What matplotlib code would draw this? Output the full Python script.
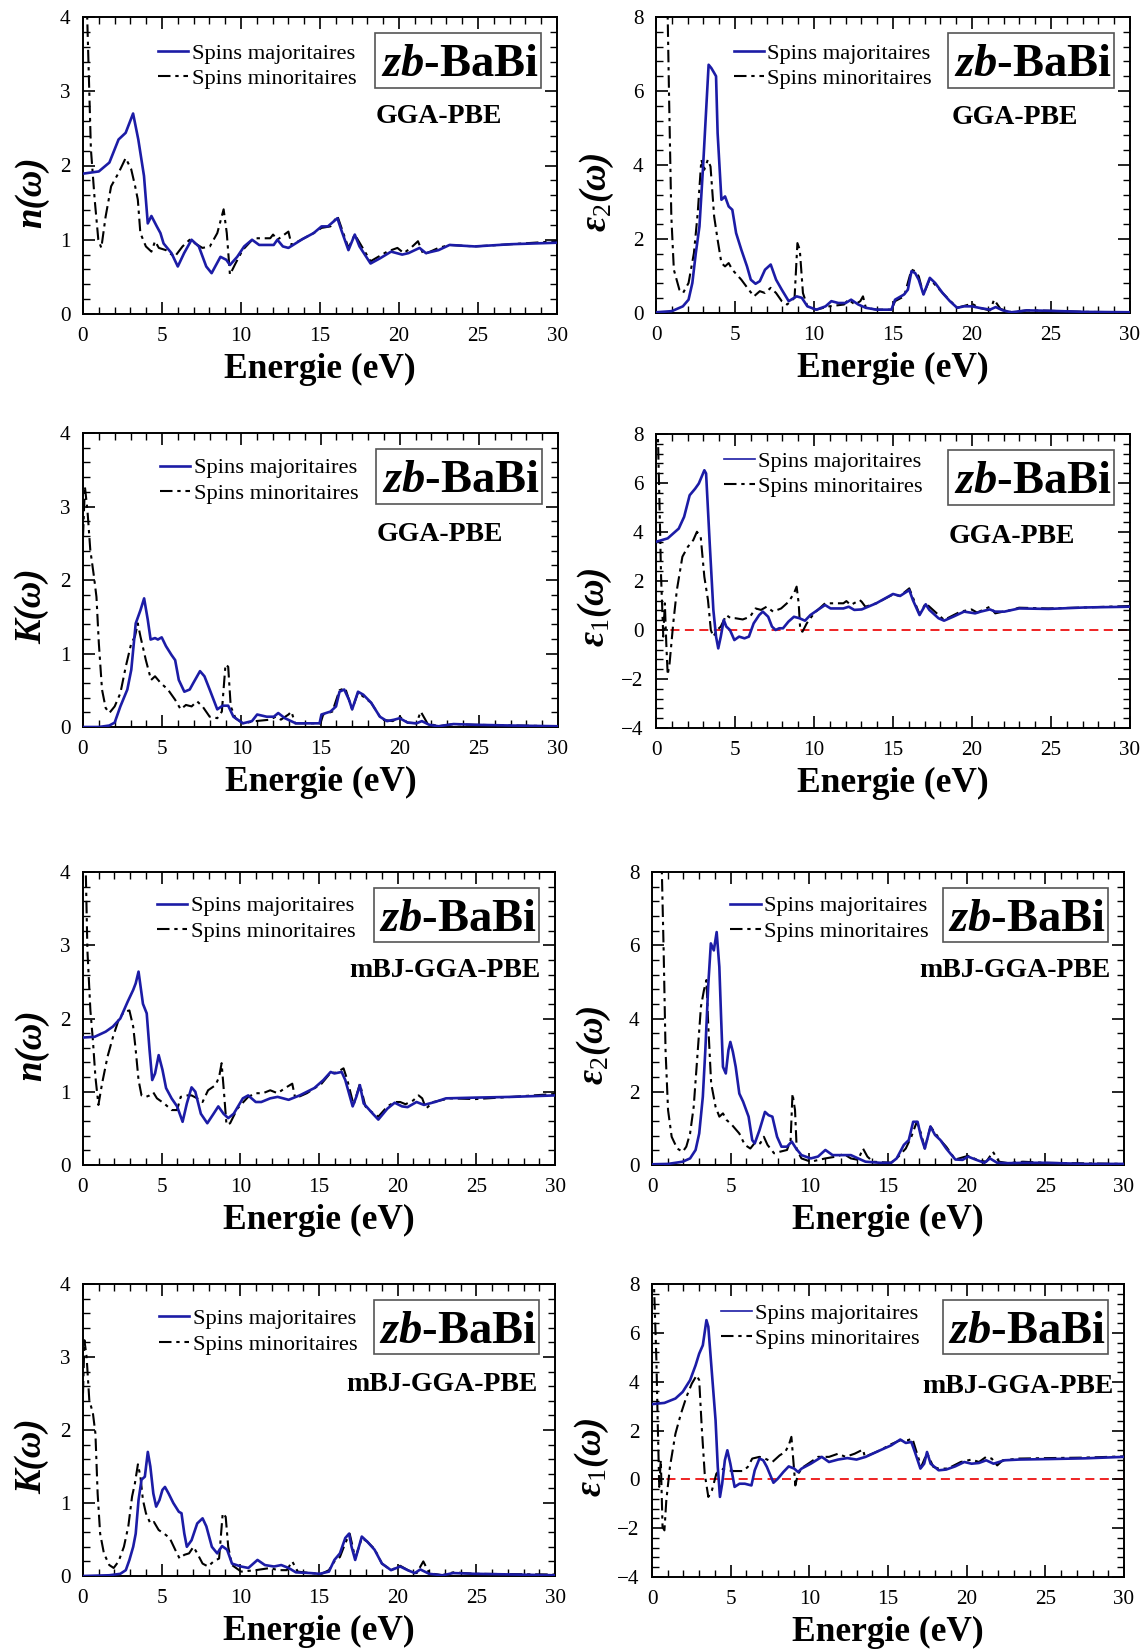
import matplotlib
matplotlib.use('Agg')
import matplotlib.pyplot as plt
from matplotlib.ticker import MultipleLocator
from matplotlib.patches import Rectangle

plt.rcParams['font.family'] = ['Liberation Serif', 'DejaVu Serif']
plt.rcParams['mathtext.fontset'] = 'custom'
plt.rcParams['mathtext.rm'] = 'Liberation Serif'
plt.rcParams['mathtext.it'] = 'Liberation Serif:italic:bold'
plt.rcParams['mathtext.bf'] = 'Liberation Serif:bold'

# ---------------- data (energy eV, value) ----------------
n_gga_up = [(0, 1.89), (1.0, 1.92), (1.67, 2.04), (2.25, 2.35), (2.7, 2.44), (3.17, 2.70), (3.5, 2.35),
            (3.86, 1.86), (4.1, 1.22), (4.33, 1.32), (4.67, 1.18), (4.9, 1.09), (5.1, 0.95), (5.6, 0.82),
            (6.0, 0.64), (6.4, 0.82), (6.87, 1.0), (7.33, 0.91), (7.8, 0.64), (8.14, 0.55), (8.7, 0.77),
            (9.07, 0.73), (9.3, 0.66), (9.76, 0.77), (10.2, 0.91), (10.7, 1.0), (11.15, 0.93), (12.07, 0.93),
            (12.3, 1.0), (12.65, 0.91), (13.0, 0.89), (13.9, 1.01), (14.6, 1.09), (15.1, 1.18), (15.5, 1.18),
            (16.1, 1.29), (16.35, 1.13), (16.8, 0.86), (17.2, 1.07), (17.5, 0.91), (18.2, 0.68), (18.8, 0.75),
            (19.5, 0.84), (20.2, 0.80), (20.6, 0.82), (21.3, 0.89), (21.7, 0.82), (22.5, 0.86), (23.2, 0.93),
            (24.8, 0.91), (27.1, 0.94), (30, 0.96)]
n_gga_dn = [(0.2, 4.5), (0.5, 2.22), (0.74, 1.54), (0.97, 1.0), (1.16, 0.89), (1.43, 1.31), (1.78, 1.72),
            (2.25, 1.9), (2.7, 2.10), (3.05, 1.95), (3.3, 1.72), (3.47, 1.54), (3.63, 1.09), (3.98, 0.91),
            (4.33, 0.84), (4.56, 0.98), (4.8, 0.89), (5.25, 0.86), (5.8, 0.77), (6.3, 0.91), (6.75, 1.0),
            (7.1, 0.95), (7.56, 0.89), (8.03, 0.91), (8.5, 1.09), (8.9, 1.41), (9.1, 1.09), (9.3, 0.53),
            (9.65, 0.68), (10.1, 0.86), (10.8, 1.02), (11.85, 1.02), (12.03, 1.07), (12.3, 1.0), (13.0, 1.11),
            (13.2, 0.93), (14.6, 1.09), (15.1, 1.16), (15.66, 1.18), (16.1, 1.32), (16.8, 0.89), (17.2, 1.07),
            (18.2, 0.71), (19.25, 0.84), (19.9, 0.89), (20.3, 0.82), (20.75, 0.89), (21.2, 0.98), (21.55, 0.80),
            (22.5, 0.89), (23.2, 0.93), (24.8, 0.91), (27.1, 0.94), (30, 0.98)]

eps2_gga_up = [(0, 0.02), (1.0, 0.05), (1.7, 0.18), (2.06, 0.36), (2.3, 0.81), (2.52, 1.62), (2.75, 2.34),
               (2.98, 3.96), (3.15, 5.3), (3.33, 6.71), (3.5, 6.62), (3.68, 6.49), (3.8, 6.4), (3.9, 4.86),
               (4.14, 3.06), (4.37, 3.15), (4.6, 2.88), (4.83, 2.79), (5.07, 2.16), (5.4, 1.71), (5.76, 1.26),
               (6.0, 0.9), (6.3, 0.79), (6.57, 0.86), (6.9, 1.17), (7.26, 1.31), (7.6, 0.90), (7.96, 0.63),
               (8.4, 0.32), (8.9, 0.45), (9.23, 0.41), (9.58, 0.18), (10.15, 0.09), (10.73, 0.18), (11.1, 0.32),
               (11.54, 0.27), (12.0, 0.27), (12.35, 0.36), (12.8, 0.23), (13.28, 0.14), (13.97, 0.09),
               (14.9, 0.09), (15.13, 0.36), (15.7, 0.5), (15.94, 0.63), (16.17, 1.13), (16.4, 1.08),
               (16.63, 0.90), (16.93, 0.5), (17.33, 0.95), (17.67, 0.81), (18.14, 0.54), (18.6, 0.32),
               (19.06, 0.14), (19.5, 0.18), (20.0, 0.18), (20.45, 0.14), (21.14, 0.09), (21.5, 0.16),
               (21.95, 0.07), (22.5, 0.02), (23.45, 0.07), (24.85, 0.06), (27.2, 0.03), (30, 0.02)]
eps2_gga_dn = [(0.7, 9.0), (0.83, 5.77), (0.97, 2.61), (1.13, 1.17), (1.48, 0.63), (1.71, 0.54), (2.06, 0.81),
               (2.4, 1.62), (2.64, 2.70), (2.87, 4.14), (3.05, 3.87), (3.28, 4.14), (3.45, 3.96), (3.68, 2.61),
               (3.9, 1.98), (4.14, 1.35), (4.37, 1.26), (4.6, 1.35), (4.83, 1.17), (5.4, 0.9), (5.87, 0.63),
               (6.2, 0.45), (6.57, 0.59), (6.9, 0.54), (7.26, 0.68), (7.6, 0.54), (7.96, 0.32), (8.3, 0.23),
               (8.77, 0.41), (8.95, 1.89), (9.1, 1.71), (9.3, 0.54), (9.58, 0.18), (10.15, 0.09), (10.96, 0.18),
               (11.9, 0.23), (12.17, 0.36), (12.6, 0.23), (12.93, 0.32), (13.1, 0.45), (13.28, 0.14),
               (13.97, 0.09), (14.9, 0.09), (15.13, 0.32), (15.7, 0.45), (16.17, 1.17), (16.4, 1.13),
               (16.63, 0.99), (16.93, 0.5), (17.33, 0.92), (18.14, 0.54), (19.06, 0.14), (20.0, 0.25),
               (20.45, 0.14), (21.14, 0.07), (21.4, 0.36), (21.8, 0.11), (22.5, 0.02), (23.45, 0.07),
               (24.85, 0.06), (27.2, 0.03), (30, 0.02)]

k_gga_up = [(0, 0.0), (1.0, 0.0), (1.66, 0.02), (2.0, 0.06), (2.36, 0.28), (2.8, 0.51), (3.05, 0.78),
            (3.33, 1.41), (3.63, 1.59), (3.86, 1.75), (4.09, 1.46), (4.27, 1.19), (4.55, 1.21), (4.73, 1.19),
            (4.97, 1.22), (5.24, 1.10), (5.59, 0.98), (5.82, 0.91), (6.05, 0.64), (6.4, 0.48), (6.74, 0.51),
            (6.97, 0.6), (7.39, 0.76), (7.67, 0.69), (8.0, 0.51), (8.48, 0.24), (8.82, 0.29), (9.17, 0.29),
            (9.5, 0.14), (10.1, 0.05), (10.67, 0.08), (11.0, 0.17), (11.6, 0.14), (12.05, 0.14), (12.33, 0.19),
            (12.75, 0.12), (13.44, 0.05), (14.36, 0.05), (14.94, 0.05), (15.06, 0.17), (15.63, 0.21),
            (15.98, 0.28), (16.2, 0.48), (16.5, 0.51), (16.8, 0.37), (17.0, 0.24), (17.37, 0.48), (17.7, 0.44),
            (18.2, 0.33), (18.75, 0.14), (19.2, 0.08), (19.67, 0.10), (20.0, 0.12), (20.5, 0.06), (21.06, 0.05),
            (21.4, 0.08), (21.87, 0.03), (22.45, 0.01), (23.4, 0.04), (24.76, 0.03), (27.07, 0.02), (30, 0.01)]
k_gga_dn = [(0, 2.59), (0.12, 3.27), (0.28, 2.95), (0.46, 2.41), (0.69, 2.05), (0.85, 1.77), (1.0, 1.14),
            (1.2, 0.51), (1.43, 0.26), (1.66, 0.19), (2.0, 0.28), (2.36, 0.46), (2.7, 0.82), (3.05, 1.14),
            (3.28, 1.23), (3.46, 1.41), (3.63, 1.23), (3.97, 0.91), (4.3, 0.64), (4.55, 0.69), (4.9, 0.6),
            (5.36, 0.51), (5.82, 0.37), (6.17, 0.24), (6.5, 0.30), (6.86, 0.28), (7.2, 0.35), (7.55, 0.28),
            (8.0, 0.14), (8.48, 0.12), (8.77, 0.21), (9.0, 0.85), (9.17, 0.82), (9.33, 0.28), (9.63, 0.12),
            (10.1, 0.05), (10.9, 0.08), (11.82, 0.10), (12.17, 0.14), (12.5, 0.10), (12.98, 0.17), (13.16, 0.21),
            (13.4, 0.05), (14.36, 0.05), (15.0, 0.05), (15.17, 0.17), (15.75, 0.21), (16.2, 0.50), (16.56, 0.53),
            (16.8, 0.37), (17.0, 0.24), (17.37, 0.47), (18.2, 0.33), (18.87, 0.10), (19.56, 0.08), (20.0, 0.14),
            (20.5, 0.06), (21.06, 0.05), (21.33, 0.21), (21.75, 0.05), (22.45, 0.01), (23.4, 0.04), (24.76, 0.03),
            (30, 0.01)]

eps1_gga_up = [(0, 3.6), (0.74, 3.74), (1.44, 4.14), (1.78, 4.62), (2.13, 5.5), (2.48, 5.77), (2.71, 5.98),
               (3.06, 6.52), (3.17, 6.39), (3.4, 3.53), (3.63, 0.82), (3.8, -0.27), (3.94, -0.75), (4.1, -0.27),
               (4.29, 0.41), (4.45, 0.14), (4.68, 0.0), (4.96, -0.41), (5.26, -0.27), (5.6, -0.34), (5.88, -0.27),
               (6.18, 0.27), (6.53, 0.61), (6.76, 0.75), (7.1, 0.54), (7.34, 0.14), (7.57, 0.0), (7.8, 0.07),
               (8.04, 0.07), (8.38, 0.34), (8.73, 0.54), (9.08, 0.48), (9.43, 0.38), (9.77, 0.61), (10.24, 0.82),
               (10.7, 1.02), (11.05, 0.88), (11.86, 0.88), (12.2, 0.95), (12.55, 0.82), (13.02, 0.84),
               (13.94, 1.09), (15.0, 1.47), (15.45, 1.39), (16.03, 1.63), (16.26, 1.22), (16.68, 0.61),
               (17.07, 1.05), (17.3, 0.82), (17.88, 0.48), (18.23, 0.38), (18.8, 0.54), (19.5, 0.75), (20.2, 0.68),
               (20.55, 0.75), (21.13, 0.84), (21.47, 0.75), (22.05, 0.75), (22.98, 0.88), (24.83, 0.86),
               (27.15, 0.92), (30, 0.95)]
eps1_gga_dn = [(0.1, 8.5), (0.23, 4.9), (0.32, 2.2), (0.46, -0.27), (0.56, 1.09), (0.65, -0.54), (0.74, -1.83),
               (0.86, -1.36), (1.09, 0.27), (1.32, 1.63), (1.67, 2.99), (2.02, 3.4), (2.36, 3.67), (2.59, 4.01),
               (2.83, 3.8), (3.06, 2.17), (3.29, 1.22), (3.47, 0.0), (3.63, -0.27), (3.87, 0.0), (4.1, 0.14),
               (4.45, 0.61), (4.73, 0.48), (5.03, 0.48), (5.49, 0.43), (5.95, 0.54), (6.3, 0.88), (6.65, 0.82),
               (7.0, 0.95), (7.41, 0.75), (7.92, 0.88), (8.39, 1.15), (8.73, 1.49), (8.9, 1.77), (9.03, 1.09),
               (9.13, 0.0), (9.27, -0.07), (9.54, 0.27), (10.0, 0.68), (10.7, 1.09), (11.86, 1.09), (12.05, 1.18),
               (12.32, 1.02), (12.9, 1.22), (13.02, 1.15), (13.25, 0.95), (13.94, 1.09), (15.0, 1.45),
               (15.45, 1.39), (16.03, 1.7), (16.68, 0.64), (17.07, 1.09), (18.23, 0.41), (19.27, 0.75),
               (19.97, 0.84), (20.32, 0.71), (21.13, 0.95), (21.47, 0.68), (22.5, 0.82), (22.98, 0.91),
               (24.83, 0.88), (27.15, 0.92), (30, 0.98)]

n_mbj_up = [(0, 1.74), (0.74, 1.75), (1.44, 1.82), (1.9, 1.89), (2.37, 2.0), (2.84, 2.23), (3.19, 2.39),
            (3.35, 2.48), (3.53, 2.64), (3.81, 2.2), (4.05, 2.07), (4.23, 1.57), (4.4, 1.16), (4.58, 1.25),
            (4.81, 1.5), (5.05, 1.3), (5.28, 1.05), (5.63, 0.91), (5.98, 0.80), (6.33, 0.59), (6.6, 0.84),
            (6.9, 1.06), (7.14, 1.0), (7.49, 0.70), (7.9, 0.57), (8.3, 0.70), (8.6, 0.80), (8.93, 0.70),
            (9.23, 0.64), (9.58, 0.70), (10.16, 0.91), (10.5, 0.95), (10.98, 0.86), (11.33, 0.86), (11.9, 0.91),
            (12.37, 0.93), (13.07, 0.89), (13.77, 0.95), (14.7, 1.05), (15.28, 1.16), (15.74, 1.27),
            (15.98, 1.25), (16.44, 1.27), (16.67, 1.16), (17.14, 0.8), (17.37, 0.93), (17.6, 1.09), (17.84, 0.84),
            (18.42, 0.70), (18.77, 0.62), (19.35, 0.77), (19.81, 0.85), (20.28, 0.80), (20.63, 0.79),
            (21.2, 0.86), (21.67, 0.82), (22.37, 0.86), (23.07, 0.91), (24.93, 0.92), (27.26, 0.93), (30, 0.95)]
n_mbj_dn = [(0.15, 4.3), (0.28, 2.93), (0.47, 2.11), (0.63, 1.70), (0.79, 1.2), (0.98, 0.82), (1.21, 1.11),
            (1.56, 1.48), (1.91, 1.75), (2.26, 1.98), (2.6, 2.09), (2.95, 2.11), (3.19, 1.89), (3.35, 1.57),
            (3.53, 1.16), (3.72, 0.95), (4.0, 0.93), (4.23, 0.95), (4.47, 0.99), (4.7, 0.91), (5.16, 0.84),
            (5.63, 0.75), (5.98, 0.75), (6.21, 0.93), (6.56, 0.95), (6.9, 0.95), (7.26, 0.91), (7.6, 0.86),
            (7.95, 1.02), (8.42, 1.09), (8.65, 1.2), (8.81, 1.39), (8.95, 1.02), (9.12, 0.55), (9.35, 0.57),
            (9.81, 0.77), (10.5, 0.93), (10.98, 0.98), (11.44, 0.98), (11.9, 1.02), (12.37, 0.98), (12.84, 1.05),
            (13.3, 1.11), (13.49, 0.91), (14.23, 0.98), (15.16, 1.11), (15.74, 1.26), (16.1, 1.26), (16.56, 1.32),
            (16.8, 1.16), (17.2, 0.82), (17.6, 1.11), (17.95, 0.80), (18.3, 0.73), (18.77, 0.66), (19.35, 0.80),
            (19.81, 0.86), (20.16, 0.86), (20.5, 0.83), (20.98, 0.88), (21.33, 0.95), (21.56, 0.91), (21.8, 0.77),
            (22.26, 0.86), (23.3, 0.91), (24.93, 0.90), (27.26, 0.93), (30, 0.97)]

eps2_mbj_up = [(0, 0.02), (1.02, 0.03), (1.95, 0.09), (2.42, 0.18), (2.77, 0.41), (3.0, 0.86), (3.23, 1.86),
               (3.39, 3.14), (3.58, 4.95), (3.74, 6.05), (3.93, 5.86), (4.11, 6.36), (4.28, 5.41), (4.39, 4.05),
               (4.51, 2.68), (4.69, 2.5), (4.86, 3.14), (4.98, 3.36), (5.14, 3.09), (5.32, 2.68), (5.55, 1.95),
               (5.79, 1.73), (6.14, 1.32), (6.37, 0.68), (6.53, 0.59), (6.83, 0.95), (7.18, 1.45), (7.41, 1.36),
               (7.65, 1.32), (7.95, 0.77), (8.23, 0.5), (8.58, 0.5), (8.88, 0.64), (9.16, 0.45), (9.5, 0.27),
               (10.09, 0.18), (10.55, 0.23), (11.02, 0.41), (11.48, 0.27), (12.18, 0.27), (12.64, 0.27),
               (13.1, 0.18), (13.57, 0.09), (14.5, 0.06), (15.2, 0.06), (15.55, 0.18), (16.01, 0.55), (16.32, 0.68),
               (16.6, 1.18), (16.88, 1.18), (17.1, 0.77), (17.34, 0.45), (17.7, 1.05), (17.99, 0.82), (18.33, 0.68),
               (18.7, 0.45), (19.28, 0.15), (19.74, 0.14), (20.09, 0.23), (20.55, 0.15), (21.13, 0.06),
               (21.48, 0.18), (21.94, 0.06), (22.64, 0.05), (23.57, 0.06), (24.97, 0.06), (27.5, 0.03), (30, 0.03)]
eps2_mbj_dn = [(0.6, 8.5), (0.74, 5.86), (0.86, 3.14), (1.02, 1.5), (1.25, 0.77), (1.6, 0.45), (1.95, 0.36),
               (2.18, 0.5), (2.42, 0.86), (2.65, 1.59), (2.88, 2.95), (3.11, 4.32), (3.3, 4.77), (3.46, 5.05),
               (3.58, 3.77), (3.76, 2.23), (4.04, 1.59), (4.28, 1.32), (4.51, 1.41), (4.74, 1.23), (5.09, 1.09),
               (5.55, 0.86), (5.9, 0.55), (6.25, 0.45), (6.6, 0.64), (6.88, 0.59), (7.11, 0.77), (7.34, 0.55),
               (7.76, 0.32), (8.11, 0.36), (8.58, 0.41), (8.81, 0.68), (8.93, 1.95), (9.09, 1.5), (9.2, 0.41),
               (9.5, 0.18), (10.09, 0.09), (11.02, 0.18), (11.71, 0.23), (12.18, 0.3), (12.64, 0.18), (13.1, 0.14),
               (13.41, 0.45), (13.69, 0.23), (14.04, 0.09), (15.2, 0.06), (15.66, 0.23), (16.13, 0.45),
               (16.48, 0.77), (16.83, 1.18), (17.1, 0.86), (17.34, 0.45), (17.7, 1.05), (18.33, 0.68), (18.7, 0.5),
               (19.28, 0.15), (20.09, 0.25), (20.79, 0.12), (21.25, 0.09), (21.67, 0.36), (22.06, 0.09),
               (22.64, 0.05), (23.57, 0.09), (24.97, 0.06), (30, 0.03)]

k_mbj_up = [(0, 0.0), (1.67, 0.01), (2.37, 0.03), (2.72, 0.08), (2.95, 0.22), (3.19, 0.40), (3.35, 0.58),
            (3.53, 1.04), (3.72, 1.32), (3.93, 1.36), (4.12, 1.70), (4.28, 1.50), (4.47, 1.13), (4.65, 0.95),
            (4.86, 1.04), (5.05, 1.18), (5.21, 1.22), (5.44, 1.13), (5.74, 1.0), (6.09, 0.88), (6.26, 0.86),
            (6.44, 0.58), (6.6, 0.40), (6.9, 0.49), (7.26, 0.72), (7.6, 0.79), (7.84, 0.68), (8.19, 0.40),
            (8.53, 0.31), (8.84, 0.41), (9.16, 0.36), (9.47, 0.17), (10.05, 0.13), (10.51, 0.11), (11.09, 0.22),
            (11.56, 0.15), (12.14, 0.13), (12.6, 0.15), (13.07, 0.11), (13.53, 0.05), (14.47, 0.04), (15.05, 0.03),
            (15.63, 0.06), (15.98, 0.22), (16.33, 0.31), (16.67, 0.52), (16.91, 0.58), (17.07, 0.40), (17.3, 0.22),
            (17.72, 0.54), (18.07, 0.47), (18.53, 0.36), (19.0, 0.17), (19.58, 0.08), (20.16, 0.13), (20.63, 0.08),
            (21.09, 0.04), (21.44, 0.09), (22.0, 0.03), (22.84, 0.01), (23.53, 0.04), (24.93, 0.03), (30, 0.01)]
k_mbj_dn = [(0, 2.50), (0.09, 3.23), (0.23, 3.0), (0.4, 2.41), (0.63, 2.23), (0.79, 1.95), (0.93, 1.13),
            (1.09, 0.58), (1.33, 0.31), (1.67, 0.15), (1.95, 0.11), (2.26, 0.20), (2.6, 0.40), (2.88, 0.68),
            (3.12, 1.09), (3.3, 1.27), (3.49, 1.53), (3.65, 1.36), (3.81, 1.04), (4.0, 0.86), (4.28, 0.72),
            (4.51, 0.74), (4.81, 0.63), (5.16, 0.58), (5.51, 0.52), (5.86, 0.36), (6.14, 0.24), (6.44, 0.29),
            (6.74, 0.31), (7.02, 0.40), (7.26, 0.31), (7.6, 0.17), (7.95, 0.13), (8.3, 0.20), (8.65, 0.24),
            (8.88, 0.86), (9.07, 0.81), (9.23, 0.40), (9.47, 0.15), (10.05, 0.06), (10.98, 0.08), (11.91, 0.11),
            (12.37, 0.08), (12.95, 0.08), (13.3, 0.20), (13.65, 0.06), (14.47, 0.04), (15.16, 0.03), (15.63, 0.08),
            (15.98, 0.20), (16.33, 0.26), (16.67, 0.45), (16.95, 0.58), (17.14, 0.40), (17.3, 0.24), (17.72, 0.52),
            (18.07, 0.47), (18.53, 0.37), (19.0, 0.17), (19.58, 0.08), (20.16, 0.14), (20.74, 0.07), (21.21, 0.04),
            (21.63, 0.20), (22.0, 0.04), (22.84, 0.01), (23.53, 0.05), (24.93, 0.03), (30, 0.02)]

eps1_mbj_up = [(0, 3.08), (0.79, 3.13), (1.49, 3.31), (1.95, 3.58), (2.42, 4.06), (2.77, 4.67), (3.0, 5.15),
               (3.23, 5.49), (3.46, 6.52), (3.58, 6.25), (3.81, 4.33), (4.04, 2.42), (4.18, 0.51), (4.32, -0.72),
               (4.46, -0.18), (4.63, 0.78), (4.79, 1.19), (4.98, 0.64), (5.25, -0.31), (5.56, -0.18), (5.9, -0.18),
               (6.32, -0.25), (6.53, 0.37), (6.83, 0.85), (7.07, 0.78), (7.3, 0.51), (7.72, -0.14), (8.0, 0.03),
               (8.35, 0.30), (8.69, 0.53), (9.04, 0.44), (9.28, 0.30), (9.51, 0.44), (10.09, 0.64), (10.79, 0.92),
               (11.25, 0.71), (11.83, 0.81), (12.41, 0.87), (13.0, 0.81), (13.58, 0.92), (14.5, 1.19), (15.2, 1.39),
               (15.78, 1.63), (16.13, 1.49), (16.48, 1.53), (16.71, 1.12), (17.06, 0.44), (17.3, 0.64),
               (17.48, 1.12), (17.71, 0.64), (18.22, 0.37), (18.69, 0.40), (19.27, 0.53), (19.85, 0.71),
               (20.31, 0.64), (20.78, 0.67), (21.24, 0.78), (21.71, 0.64), (22.4, 0.78), (23.33, 0.81),
               (25.19, 0.83), (27.52, 0.86), (30, 0.92)]
eps1_mbj_dn = [(0.1, 8.5), (0.28, 4.88), (0.37, 2.15), (0.46, -0.31), (0.56, 0.78), (0.67, -1.95), (0.79, -2.09),
               (0.91, -0.86), (1.14, 0.51), (1.49, 1.87), (1.84, 2.69), (2.19, 3.38), (2.53, 3.92), (2.84, 4.26),
               (3.0, 4.06), (3.16, 2.15), (3.35, 0.23), (3.58, -0.72), (3.81, -0.45), (4.09, 0.23), (4.39, 0.44),
               (4.74, 0.37), (5.2, 0.34), (5.79, 0.34), (6.09, 0.51), (6.37, 0.85), (6.83, 0.92), (7.18, 0.85),
               (7.65, 0.71), (8.11, 0.98), (8.46, 1.12), (8.69, 1.39), (8.86, 1.74), (9.0, 0.64), (9.11, -0.25),
               (9.28, 0.23), (9.63, 0.51), (10.09, 0.71), (10.56, 0.92), (11.25, 0.92), (11.83, 1.05), (12.3, 0.92),
               (12.88, 1.05), (13.41, 1.22), (13.53, 0.92), (14.5, 1.19), (15.2, 1.44), (15.78, 1.60), (16.25, 1.60),
               (16.55, 1.67), (16.78, 1.19), (17.11, 0.51), (17.48, 1.08), (17.88, 0.51), (18.22, 0.44),
               (18.8, 0.44), (19.62, 0.71), (20.31, 0.81), (20.78, 0.71), (21.24, 0.92), (21.59, 0.85),
               (21.94, 0.57), (22.29, 0.78), (23.33, 0.85), (25.19, 0.87), (27.52, 0.89), (30, 0.94)]

x_ticks = [0, 5, 10, 15, 20, 25, 30]
legend_labels = ['Spins majoritaires', 'Spins minoritaires']
material = '$zb$-BaBi'

# ---------------- layout ----------------
FIG_W, FIG_H = 1146, 1650
fig = plt.figure(figsize=(FIG_W / 100, FIG_H / 100), dpi=100)

BLUE = '#1c1ca6'
DASHDOT = (6, 2.3, 1.6, 2.3)

panels = [
    dict(box=(83, 17, 557, 314), up=n_gga_up, dn=n_gga_dn, ylab='n(ω)', ylim=(0, 4), maj=1, mnr=0.2,
         meth='GGA-PBE', mx=0.618, my=0.665, mha='left', leg=(0.158, 0.913), labx=-0.072, zero=False),
    dict(box=(656, 17, 1130, 313), up=eps2_gga_up, dn=eps2_gga_dn, ylab='ε$_2$(ω)', ylim=(0, 8), maj=2, mnr=0.4,
         meth='GGA-PBE', mx=0.624, my=0.662, mha='left', leg=(0.164, 0.913), labx=-0.085, zero=False),
    dict(box=(83, 433, 558, 727), up=k_gga_up, dn=k_gga_dn, ylab='K(ω)', ylim=(0, 4), maj=1, mnr=0.2,
         meth='GGA-PBE', mx=0.619, my=0.655, mha='left', leg=(0.162, 0.916), labx=-0.072, zero=False),
    dict(box=(656, 434, 1130, 728), up=eps1_gga_up, dn=eps1_gga_dn, ylab='ε$_1$(ω)', ylim=(-4, 8), maj=2, mnr=0.4,
         meth='GGA-PBE', mx=0.618, my=0.652, mha='left', leg=(0.144, 0.943), labx=-0.088, zero=True),
    dict(box=(83, 872, 555, 1165), up=n_mbj_up, dn=n_mbj_dn, ylab='n(ω)', ylim=(0, 4), maj=1, mnr=0.2,
         meth='mBJ-GGA-PBE', mx=0.97, my=0.664, mha='right', leg=(0.157, 0.919), labx=-0.072, zero=False),
    dict(box=(652, 872, 1124, 1165), up=eps2_mbj_up, dn=eps2_mbj_dn, ylab='ε$_2$(ω)', ylim=(0, 8), maj=2, mnr=0.4,
         meth='mBJ-GGA-PBE', mx=0.972, my=0.664, mha='right', leg=(0.166, 0.919), labx=-0.083, zero=False),
    dict(box=(83, 1284, 555, 1576), up=k_mbj_up, dn=k_mbj_dn, ylab='K(ω)', ylim=(0, 4), maj=1, mnr=0.2,
         meth='mBJ-GGA-PBE', mx=0.963, my=0.656, mha='right', leg=(0.161, 0.916), labx=-0.072, zero=False),
    dict(box=(652, 1284, 1124, 1577), up=eps1_mbj_up, dn=eps1_mbj_dn, ylab='ε$_1$(ω)', ylim=(-4, 8), maj=2, mnr=0.4,
         meth='mBJ-GGA-PBE', mx=0.977, my=0.651, mha='right', leg=(0.147, 0.936), labx=-0.086, zero=True),
]

for p in panels:
    l, t, r, b = p['box']
    ax = fig.add_axes([l / FIG_W, 1 - b / FIG_H, (r - l) / FIG_W, (b - t) / FIG_H])
    if p['zero']:
        ax.axhline(0, color='#ee1111', lw=1.3, ls=(0, (5, 3)), zorder=1)
    ex, ey = zip(*p['up'])
    hx, hy = zip(*p['dn'])
    ax.plot(ex, ey, color=BLUE, lw=1.9, label=legend_labels[0], zorder=3)
    ax.plot(hx, hy, color='black', lw=1.5, dashes=DASHDOT, label=legend_labels[1], zorder=2)
    ax.set_xlim(0, 30)
    ax.set_ylim(*p['ylim'])
    ax.set_xticks(x_ticks)
    ax.xaxis.set_minor_locator(MultipleLocator(1))
    ax.yaxis.set_major_locator(MultipleLocator(p['maj']))
    ax.yaxis.set_minor_locator(MultipleLocator(p['mnr']))
    ax.tick_params(which='both', direction='in', top=True, right=True, labelsize=15.2)
    ax.tick_params(axis='x', which='both', pad=9.5)
    ax.tick_params(axis='y', which='both', pad=9)
    ax.tick_params(which='major', length=8.5, width=1.2)
    ax.tick_params(which='minor', length=5, width=1.0)
    for s in ax.spines.values():
        s.set_linewidth(1.4)
    ax.set_xlabel('Energie (eV)', fontsize=25.5, fontweight='bold', labelpad=5)
    ax.set_ylabel(p['ylab'], fontsize=26.5, fontweight='bold', fontstyle='italic')
    ax.yaxis.set_label_coords(p['labx'], 0.41)
    leg = ax.legend(loc='upper left', bbox_to_anchor=p['leg'], frameon=False, fontsize=16.2,
                    handlelength=1.35, handletextpad=0.15, labelspacing=0.22, borderpad=0, borderaxespad=0)
    if p['zero']:
        leg.get_lines()[0].set_linewidth(1.2)
    ax.add_patch(Rectangle((0.617, 0.76), 0.35, 0.186, transform=ax.transAxes, facecolor='white',
                           edgecolor='#555555', lw=1.2, zorder=4))
    ax.text(0.795, 0.837, material, transform=ax.transAxes, fontsize=33.5, fontweight='bold',
            ha='center', va='center', zorder=5)
    ax.text(p['mx'], p['my'], p['meth'], transform=ax.transAxes, fontsize=20, fontweight='bold',
            ha=p['mha'], va='center', zorder=5)

fig.savefig('out.png', dpi=100)
